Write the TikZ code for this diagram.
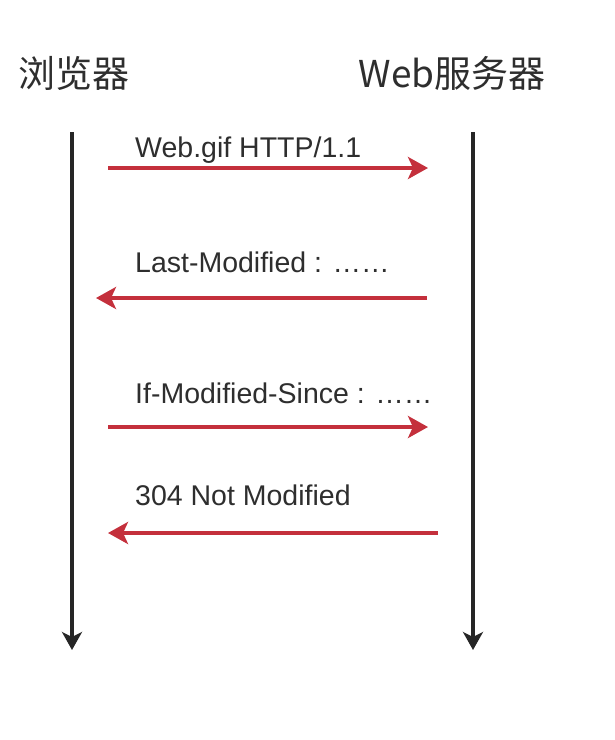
\documentclass[tikz,border=0pt]{standalone}
\usepackage{fontspec}
\setmainfont{Liberation Sans}
\newfontfamily\cjkfont{Noto Sans CJK SC}
\usepackage{xcolor}
\definecolor{seqred}{HTML}{C4303C}
\definecolor{seqtxt}{HTML}{2E2E2E}
\usepackage{tikz}
\usetikzlibrary{arrows.meta,positioning}

\begin{document}
\begin{tikzpicture}[x=1pt,y=-1pt,
  hdr/.style={font=\cjkfont\fontsize{37}{42}\selectfont,text=seqtxt,inner sep=0pt},
  lbl/.style={anchor=base west,font=\fontsize{28.5}{33}\selectfont,text=seqtxt,inner sep=0pt},
  life/.style={draw=black!85,line width=3.4pt,-{Stealth[length=18pt,width=20pt,inset=5pt]}},
  msg/.style={draw=seqred,line width=4.6pt,-{Stealth[length=20pt,width=22pt,inset=5pt]}}]
\useasboundingbox (0,0) rectangle (614,740);

% headers
\node[hdr] (browser) at (74,73) {浏览器};
\node[hdr] (server) at (452,73) {Web服务器};

% lifelines
\coordinate (btop) at (72,132);
\coordinate (bbot) at (72,650);
\coordinate (stop) at (473,132);
\coordinate (sbot) at (473,650);
\draw[life] (btop) -- (bbot);
\draw[life] (stop) -- (sbot);

% message ends
\coordinate (m1a) at (108,168);  \coordinate (m1b) at (428,168);
\coordinate (m2a) at (427,298);  \coordinate (m2b) at (96,298);
\coordinate (m3a) at (108,427);  \coordinate (m3b) at (428,427);
\coordinate (m4a) at (438,533);  \coordinate (m4b) at (108,533);

\draw[msg] (m1a) -- (m1b);
\draw[msg] (m2a) -- (m2b);
\draw[msg] (m3a) -- (m3b);
\draw[msg] (m4a) -- (m4b);

% labels
\node[lbl] (get) at (135,157) {Web.gif HTTP/1.1};
\node[lbl] (lastmod) at (135,272) {Last-Modified : ……};
\node[lbl] (ifmod) at (135,403) {If-Modified-Since : ……};
\node[lbl] (notmod) at (135,505) {304 Not Modified};
\end{tikzpicture}
\end{document}
